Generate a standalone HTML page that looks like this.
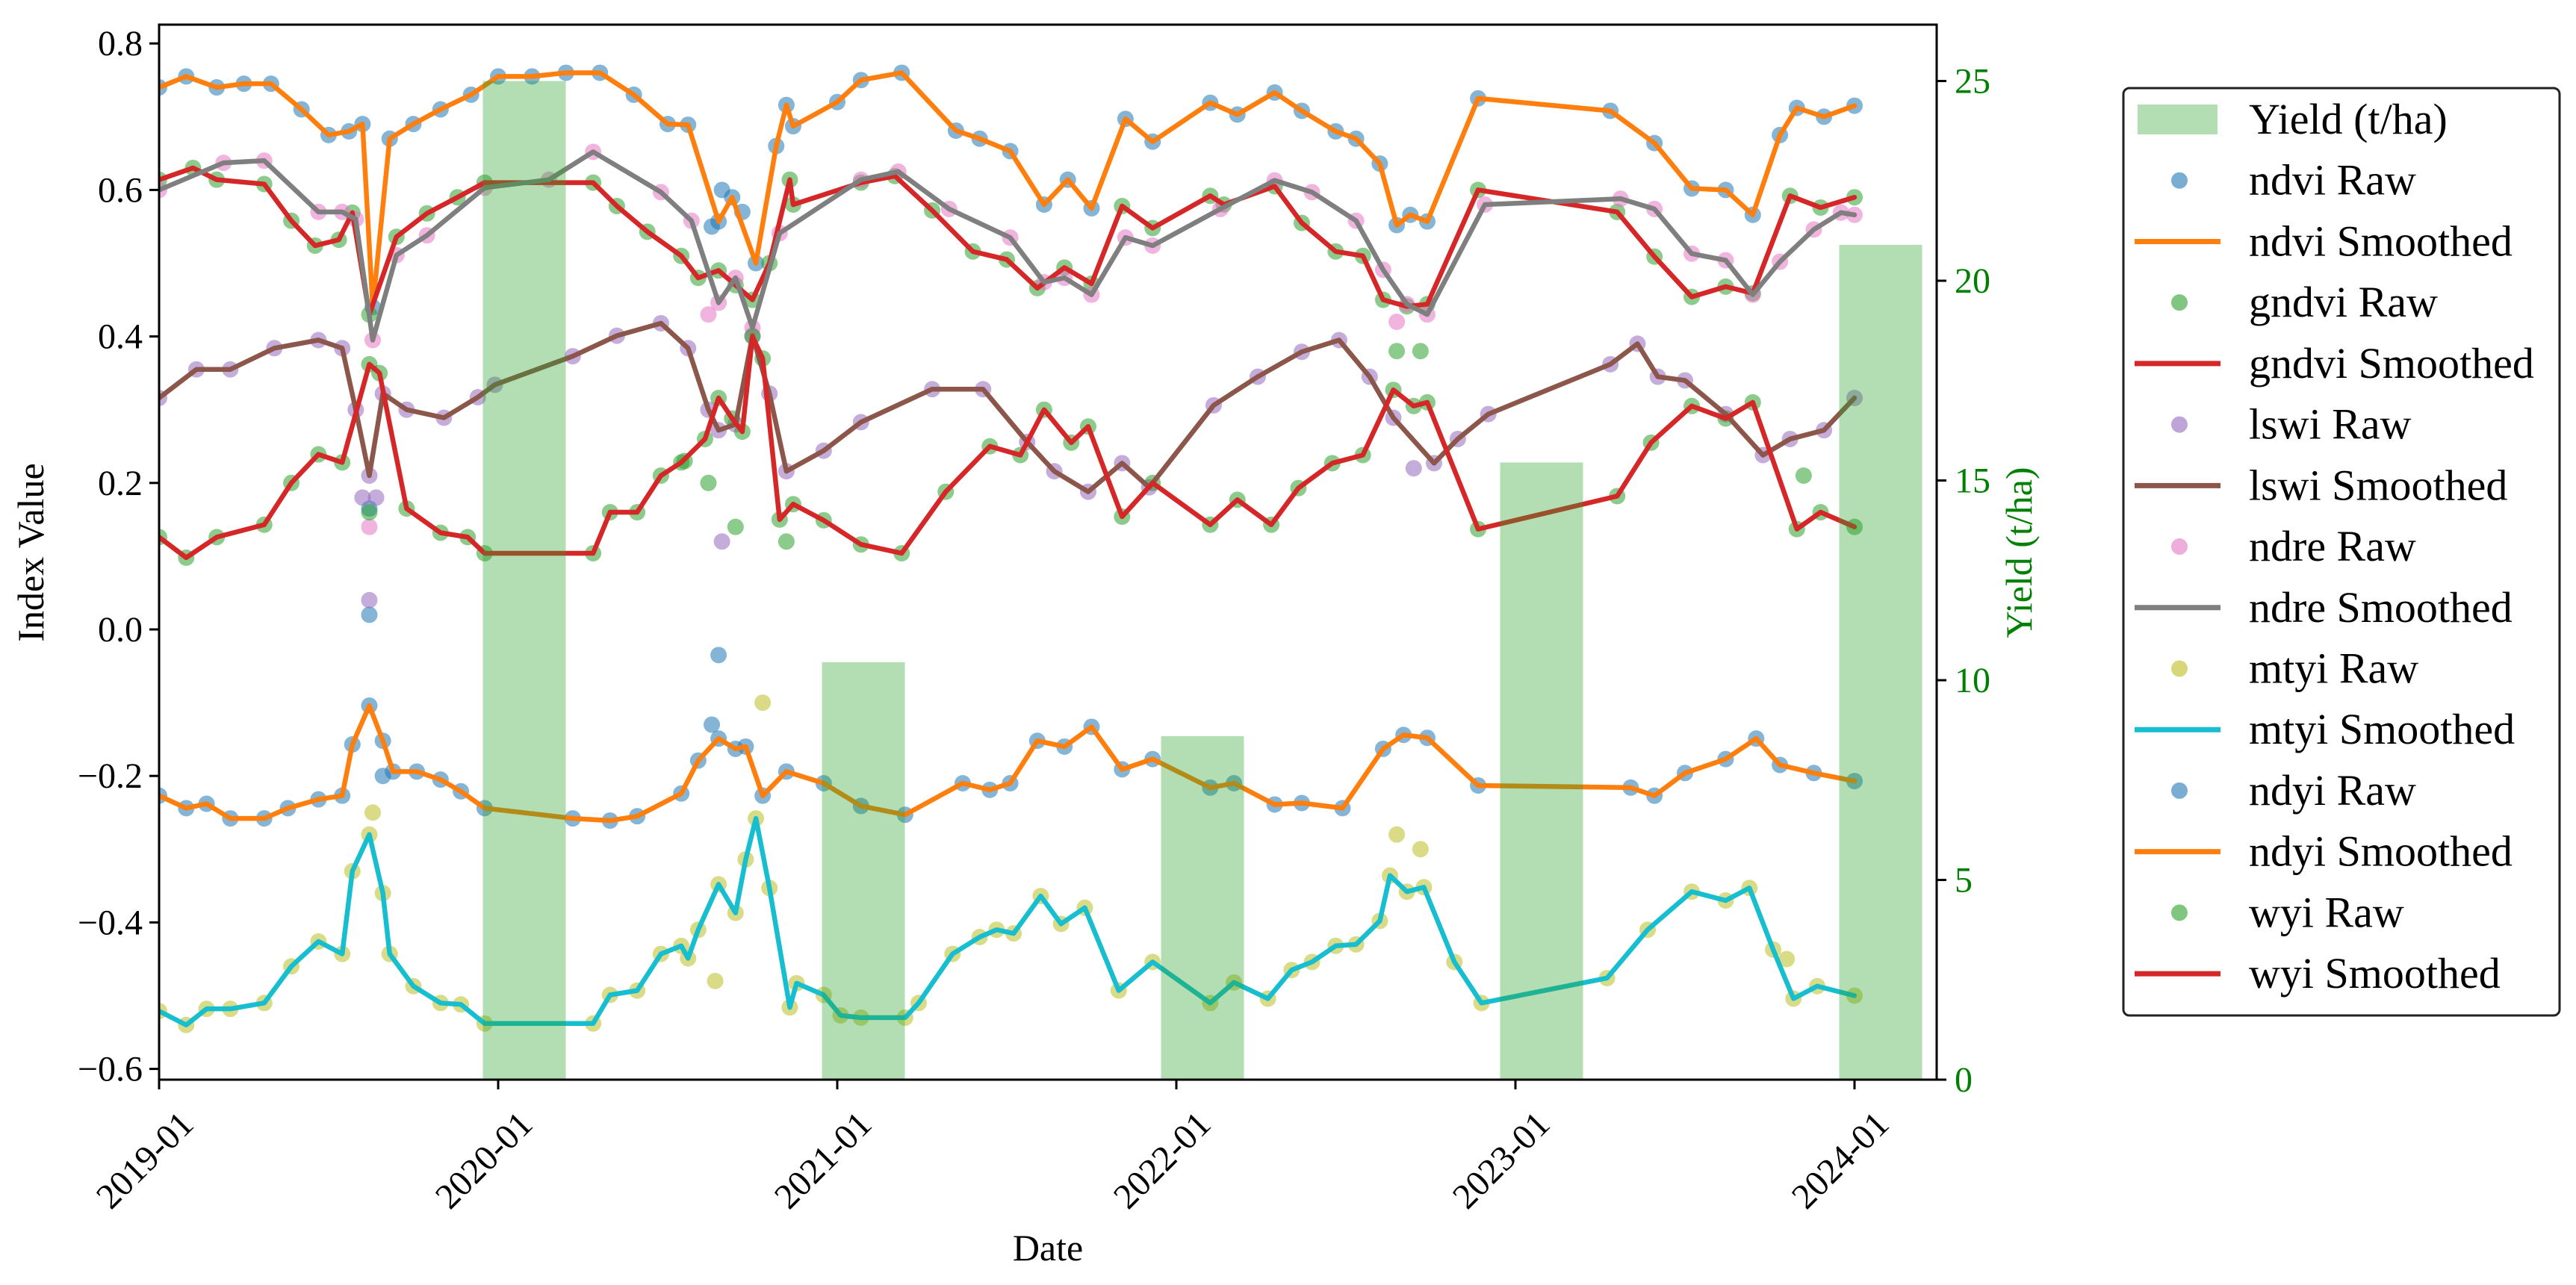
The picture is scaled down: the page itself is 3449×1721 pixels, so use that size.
<!DOCTYPE html>
<html><head><meta charset="utf-8"><style>
html,body{margin:0;padding:0;background:#fff}
svg{display:block;font-family:"Liberation Serif",serif}
</style></head><body>
<svg id="chart" width="3449" height="1721" viewBox="0 0 3449 1721" xmlns="http://www.w3.org/2000/svg">
<defs><clipPath id="plotclip"><rect x="213" y="33" width="2380" height="1413"/></clipPath></defs>
<rect x="0" y="0" width="3449" height="1721" fill="#fff"/>
<g id="dots" clip-path="url(#plotclip)"></g>
<g id="lines" clip-path="url(#plotclip)"></g>
<g id="bars"></g>
<g id="axes"></g>
<g id="legend"></g>
</svg>
<script>
// time in years since 2019-01, index values
const ndvi = [[0,.74],[.08,.755],[.17,.74],[.25,.745],[.33,.745],[.42,.71],[.5,.675],[.56,.68],[.6,.69],[.63,.44],[.68,.67],[.75,.69],[.83,.71],[.92,.73],[1.0,.755],[1.1,.755],[1.2,.76],[1.3,.76],[1.4,.73],[1.5,.69],[1.56,.689],[1.65,.557],[1.69,.59],[1.76,.50],[1.82,.66],[1.85,.716],[1.87,.687],[2.0,.72],[2.07,.75],[2.19,.76],[2.35,.681],[2.42,.67],[2.51,.653],[2.61,.58],[2.68,.614],[2.75,.575],[2.85,.697],[2.93,.666],[3.1,.719],[3.18,.703],[3.29,.733],[3.37,.708],[3.47,.68],[3.53,.67],[3.6,.636],[3.65,.552],[3.69,.566],[3.74,.557],[3.89,.725],[4.28,.708],[4.41,.664],[4.52,.602],[4.62,.60],[4.70,.566],[4.78,.675],[4.83,.712],[4.91,.70],[5.0,.715]];
const gndvi = [[0,.614],[.1,.63],[.17,.614],[.31,.608],[.39,.558],[.46,.524],[.53,.532],[.57,.569],[.62,.43],[.7,.536],[.79,.568],[.88,.59],[.96,.61],[1.28,.61],[1.35,.578],[1.44,.543],[1.54,.51],[1.59,.48],[1.65,.49],[1.7,.47],[1.75,.45],[1.8,.50],[1.86,.614],[1.87,.58],[2.07,.61],[2.17,.619],[2.28,.572],[2.4,.516],[2.5,.505],[2.59,.466],[2.67,.494],[2.75,.472],[2.84,.578],[2.93,.548],[3.1,.592],[3.14,.58],[3.29,.605],[3.37,.555],[3.47,.516],[3.55,.51],[3.61,.45],[3.68,.441],[3.74,.444],[3.89,.6],[4.3,.57],[4.41,.509],[4.52,.454],[4.62,.468],[4.7,.459],[4.81,.592],[4.9,.576],[5.0,.59]];
const lswi = [[0,.316],[.11,.355],[.21,.355],[.34,.384],[.47,.395],[.54,.384],[.58,.30],[.62,.21],[.66,.322],[.73,.30],[.84,.289],[.94,.317],[.99,.334],[1.22,.373],[1.35,.401],[1.48,.418],[1.56,.384],[1.62,.30],[1.65,.272],[1.7,.28],[1.75,.401],[1.8,.322],[1.85,.216],[1.96,.244],[2.07,.283],[2.28,.328],[2.43,.328],[2.56,.256],[2.64,.216],[2.74,.188],[2.84,.227],[2.92,.194],[3.11,.306],[3.24,.345],[3.37,.379],[3.48,.395],[3.57,.345],[3.64,.289],[3.76,.227],[3.83,.26],[3.92,.294],[4.28,.362],[4.36,.39],[4.42,.345],[4.5,.34],[4.62,.294],[4.73,.238],[4.81,.26],[4.91,.272],[5.0,.316]];
const ndre = [[0,.60],[.19,.637],[.31,.64],[.47,.57],[.54,.57],[.58,.56],[.63,.395],[.7,.511],[.79,.538],[.96,.603],[1.15,.614],[1.28,.652],[1.48,.597],[1.57,.558],[1.65,.446],[1.7,.48],[1.75,.412],[1.83,.541],[2.07,.614],[2.18,.625],[2.33,.574],[2.51,.535],[2.61,.474],[2.67,.48],[2.75,.457],[2.85,.535],[2.93,.524],[3.13,.574],[3.29,.613],[3.4,.597],[3.53,.558],[3.61,.491],[3.68,.444],[3.74,.43],[3.91,.58],[4.31,.588],[4.41,.574],[4.52,.513],[4.62,.504],[4.7,.457],[4.78,.502],[4.88,.546],[4.96,.569],[5.0,.566]];
const mtyi = [[0,-.521],[.08,-.54],[.14,-.518],[.21,-.518],[.31,-.51],[.39,-.46],[.47,-.426],[.54,-.443],[.57,-.33],[.62,-.28],[.66,-.36],[.68,-.443],[.75,-.487],[.83,-.51],[.89,-.512],[.96,-.538],[1.28,-.538],[1.33,-.499],[1.41,-.493],[1.48,-.443],[1.54,-.432],[1.56,-.449],[1.59,-.41],[1.65,-.348],[1.7,-.387],[1.73,-.314],[1.76,-.258],[1.8,-.353],[1.86,-.516],[1.88,-.483],[1.96,-.499],[2.01,-.527],[2.07,-.53],[2.2,-.53],[2.24,-.51],[2.34,-.443],[2.42,-.42],[2.47,-.41],[2.52,-.415],[2.6,-.364],[2.66,-.402],[2.73,-.38],[2.83,-.493],[2.93,-.454],[3.1,-.51],[3.17,-.482],[3.27,-.504],[3.34,-.465],[3.4,-.454],[3.47,-.432],[3.53,-.43],[3.6,-.398],[3.63,-.336],[3.68,-.358],[3.73,-.352],[3.82,-.454],[3.9,-.51],[4.27,-.476],[4.39,-.41],[4.52,-.358],[4.62,-.37],[4.69,-.353],[4.76,-.437],[4.82,-.504],[4.89,-.487],[5.0,-.5]];
const ndyi = [[0,-.227],[.08,-.244],[.14,-.238],[.21,-.258],[.31,-.258],[.38,-.244],[.47,-.232],[.54,-.227],[.57,-.157],[.62,-.104],[.66,-.152],[.69,-.194],[.76,-.194],[.83,-.205],[.89,-.221],[.96,-.244],[1.22,-.258],[1.33,-.261],[1.41,-.255],[1.54,-.224],[1.59,-.179],[1.65,-.149],[1.7,-.163],[1.73,-.16],[1.78,-.227],[1.85,-.194],[1.96,-.21],[2.07,-.241],[2.2,-.253],[2.37,-.21],[2.45,-.219],[2.51,-.21],[2.59,-.152],[2.67,-.16],[2.75,-.133],[2.84,-.191],[2.93,-.177],[3.1,-.216],[3.17,-.21],[3.29,-.239],[3.37,-.237],[3.49,-.244],[3.61,-.163],[3.67,-.144],[3.74,-.148],[3.89,-.213],[4.34,-.216],[4.41,-.227],[4.5,-.196],[4.62,-.177],[4.71,-.149],[4.78,-.185],[4.88,-.196],[5.0,-.207]];
const wyi = [[0,.126],[.08,.098],[.17,.126],[.31,.143],[.39,.2],[.47,.239],[.54,.228],[.62,.362],[.65,.35],[.73,.165],[.83,.132],[.91,.126],[.96,.104],[1.28,.104],[1.33,.16],[1.41,.16],[1.48,.21],[1.54,.228],[1.61,.26],[1.65,.316],[1.69,.288],[1.72,.27],[1.75,.40],[1.78,.37],[1.83,.15],[1.87,.171],[1.96,.149],[2.07,.116],[2.19,.104],[2.32,.188],[2.45,.25],[2.54,.238],[2.61,.30],[2.69,.255],[2.74,.277],[2.84,.154],[2.93,.2],[3.1,.143],[3.18,.177],[3.28,.143],[3.36,.193],[3.46,.227],[3.55,.238],[3.64,.327],[3.7,.305],[3.74,.31],[3.89,.137],[4.3,.182],[4.4,.255],[4.52,.305],[4.62,.288],[4.7,.31],[4.83,.137],[4.9,.16],[5.0,.14]];
const outlierNdvi = [[.62,.02],[.62,.165],[1.63,.55],[1.66,.6],[1.72,.57]];
const outlierLswi = [[.62,.04],[.6,.18],[.64,.18],[1.66,.12],[3.7,.22]];
const outlierNdre = [[.62,.14],[1.62,.43],[3.65,.42]];
const outlierGreen = [[.62,.16],[1.55,.23],[1.85,.12],[1.62,.2],[1.7,.14],[3.65,.38],[3.72,.38],[4.85,.21]];
const outlierNdyi = [[1.65,-.035],[1.63,-.13],[.66,-.2]];
const outlierMtyi = [[1.78,-.1],[1.64,-.48],[3.65,-.28],[3.72,-.3],[.63,-.25],[4.8,-.45]];
const yieldYears = [1,2,3,4,5];
const yieldValues = [25.0,10.45,8.6,15.45,20.9];
const yTicks = [0.8,0.6,0.4,0.2,0.0,-0.2,-0.4,-0.6];
const yTickLabels = ["0.8","0.6","0.4","0.2","0.0","\u22120.2","\u22120.4","\u22120.6"];
const y2Ticks = [0,5,10,15,20,25];
const xTicks = [0,1,2,3,4,5];
const xTickLabels = ["2019-01","2020-01","2021-01","2022-01","2023-01","2024-01"];

const NS="http://www.w3.org/2000/svg";
const X0=213,X1=2593,Y0=33,Y1=1446;
function xs(t){return X0+454*t;}
function ys(v){return 843-981*v;}
function ys2(v){return 1446-53.5*v;}
function mk(tag,attrs,parent){const e=document.createElementNS(NS,tag);for(const k in attrs)e.setAttribute(k,attrs[k]);parent.appendChild(e);return e;}
const gD=document.getElementById('dots'),gL=document.getElementById('lines'),gB=document.getElementById('bars'),gA=document.getElementById('axes'),gG=document.getElementById('legend');

const series=[
 ['ndvi',ndvi,'#1f77b4','#ff7f0e'],['gndvi',gndvi,'#2ca02c','#d62728'],['lswi',lswi,'#9467bd','#8c564b'],
 ['ndre',ndre,'#e377c2','#7f7f7f'],['mtyi',mtyi,'#bcbd22','#17becf'],['ndyi',ndyi,'#1f77b4','#ff7f0e'],['wyi',wyi,'#2ca02c','#d62728']];
function dots(arr,col,name){arr.forEach(p=>{const c=mk('circle',{cx:xs(p[0]),cy:ys(p[1]),r:11,fill:col,'fill-opacity':0.55},gD);

});}
series.forEach(s=>dots(s[1],s[2],s[0]));
dots(outlierNdvi,'#1f77b4','ndvi');dots(outlierLswi,'#9467bd','lswi');dots(outlierNdre,'#e377c2','ndre');
dots(outlierGreen,'#2ca02c','gndvi');dots(outlierNdyi,'#1f77b4','ndyi');dots(outlierMtyi,'#bcbd22','mtyi');
series.forEach(s=>{const pl=mk('polyline',{points:s[1].map(p=>xs(p[0])+','+ys(p[1])).join(' '),fill:'none',stroke:s[3],'stroke-width':6.5,'stroke-linejoin':'round','stroke-linecap':'round'},gL);

});
yieldYears.forEach((yr,i)=>{const w=111;const cx=xs(yr)+35;const r=mk('rect',{x:cx-w/2,y:ys2(yieldValues[i]),width:w,height:Y1-ys2(yieldValues[i]),fill:'#2ca02c','fill-opacity':0.36},gB);

});
// spines
const fr=mk('rect',{x:X0,y:Y0,width:X1-X0,height:Y1-Y0,fill:'none',stroke:'#000','stroke-width':3},gA);


yTicks.forEach((v,i)=>{mk('line',{x1:X0-13,x2:X0,y1:ys(v),y2:ys(v),stroke:'#000','stroke-width':3},gA);
const t=mk('text',{x:X0-22,y:ys(v)+16,'text-anchor':'end','font-size':48,fill:'#000'},gA);t.textContent=yTickLabels[i];

});
y2Ticks.forEach(v=>{mk('line',{x1:X1,x2:X1+13,y1:ys2(v),y2:ys2(v),stroke:'#000','stroke-width':3},gA);
const t=mk('text',{x:X1+24,y:ys2(v)+16,'font-size':48,fill:'#008000'},gA);t.textContent=String(v);

});
xTicks.forEach((v,i)=>{mk('line',{x1:xs(v),x2:xs(v),y1:Y1,y2:Y1+13,stroke:'#000','stroke-width':3},gA);
const t=mk('text',{x:0,y:0,'text-anchor':'middle','font-size':48,fill:'#000',transform:'translate('+(xs(v)-8)+',1565) rotate(-45)'},gA);t.textContent=xTickLabels[i];

});
function label(txt,x,y,rot,col,name){const t=mk('text',{x:0,y:0,'text-anchor':'middle','font-size':50,fill:col,transform:'translate('+x+','+y+')'+(rot?' rotate(-90)':'')},gA);t.textContent=txt;

}
label('Index Value',58,740,true,'#000','y-axis-title');
label('Yield (t/ha)',2720,740,true,'#008000','y2-axis-title');
label('Date',1403,1688,false,'#000','x-axis-title');
// legend
const lb=mk('rect',{x:2843,y:118,width:584,height:1242,rx:8,fill:'#fff',stroke:'#222','stroke-width':3},gG);


const entries=[['Yield (t/ha)','bar','#2ca02c']];
series.forEach(s=>{entries.push([s[0]+' Raw','dot',s[2]]);entries.push([s[0]+' Smoothed','line',s[3]]);});
entries.forEach((e,i)=>{const y=160+i*87.4*0.935;
if(e[1]==='bar')mk('rect',{x:2862,y:y-20,width:107,height:40,fill:'#2ca02c','fill-opacity':0.36},gG);
else if(e[1]==='dot')mk('circle',{cx:2918,cy:y,r:11,fill:e[2],'fill-opacity':0.6},gG);
else mk('line',{x1:2858,x2:2973,y1:y,y2:y,stroke:e[2],'stroke-width':7},gG);
const t=mk('text',{x:3011,y:y+19,'font-size':58,fill:'#000'},gG);t.textContent=e[0];

});
</script>
</body></html>
